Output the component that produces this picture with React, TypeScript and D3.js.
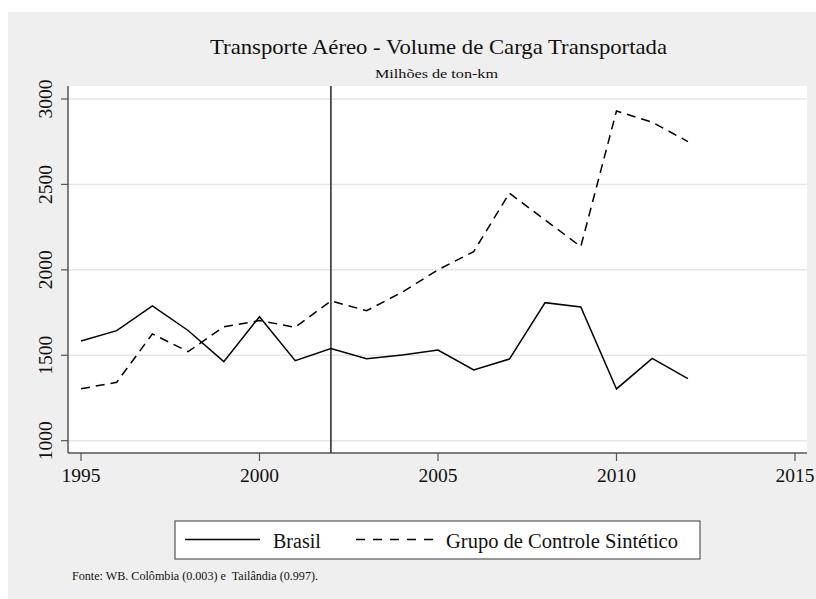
import React from "react";
import * as d3 from "d3";

const years = [1995, 1996, 1997, 1998, 1999, 2000, 2001, 2002, 2003, 2004, 2005, 2006, 2007, 2008, 2009, 2010, 2011, 2012];
const brasil = [1584, 1644, 1789, 1645, 1463, 1726, 1468, 1539, 1480, 1502, 1531, 1414, 1478, 1808, 1783, 1303, 1482, 1363];
const sintetico = [1304, 1342, 1625, 1521, 1667, 1703, 1664, 1818, 1761, 1870, 2000, 2107, 2449, 2292, 2136, 2930, 2864, 2751];
const xTicks = [1995, 2000, 2005, 2010, 2015];
const yTicks = [1000, 1500, 2000, 2500, 3000];
const treatYear = 2002;

const W = 816;
const H = 599;
const serif = "'Liberation Serif', 'Times New Roman', serif";

const App = () => {
  const left = 68;
  const right = 807;
  const top = 86;
  const bottom = 453;

  // fitted from tick positions in the reference
  const x = d3.scaleLinear().domain([1995, 2015]).range([81, 795]);
  const y = d3.scaleLinear().domain([1000, 3000]).range([440.7, 99]);

  const line = d3
    .line<number>()
    .x((_, i) => x(years[i]))
    .y((d) => y(d));

  return (
    <svg
      width={W}
      height={H}
      style={{ position: "absolute", left: 0, top: 0 }}
    >
      <rect x={0} y={0} width={W} height={H} fill="#ffffff" />
      <rect x={8} y={12} width={W - 8} height={H - 12} fill="#efefef" />
      <rect x={left} y={top} width={right - left} height={bottom - top} fill="#ffffff" />

      {/* grid */}
      {yTicks.map((t) => (
        <line key={"g" + t} x1={left} x2={right} y1={y(t)} y2={y(t)} stroke="#e6e6e6" strokeWidth={1.5} />
      ))}

      {/* titles */}
      <text x={210} y={54} fontFamily={serif} fontSize={22} fill="#111" textLength={457} lengthAdjust="spacingAndGlyphs">
        Transporte Aéreo - Volume de Carga Transportada
      </text>
      <text x={375} y={78.3} fontFamily={serif} fontSize={13.5} fill="#111" textLength={123} lengthAdjust="spacingAndGlyphs">
        Milhões de ton-km
      </text>

      {/* axes */}
      <line x1={left} x2={left} y1={top} y2={bottom} stroke="#555" strokeWidth={1.5} />
      <line x1={left} x2={right} y1={bottom} y2={bottom} stroke="#555" strokeWidth={1.5} />
      {yTicks.map((t) => (
        <g key={"y" + t}>
          <line x1={left - 7} x2={left} y1={y(t)} y2={y(t)} stroke="#555" strokeWidth={1.2} />
          <text
            transform={`translate(52,${y(t)}) rotate(-90)`}
            textAnchor="middle"
            fontFamily={serif}
            fontSize={19.5}
            fill="#111"
          >
            {t}
          </text>
        </g>
      ))}
      {xTicks.map((t) => (
        <g key={"x" + t}>
          <line x1={x(t)} x2={x(t)} y1={bottom} y2={bottom + 8} stroke="#555" strokeWidth={1.2} />
          <text x={x(t)} y={482} textAnchor="middle" fontFamily={serif} fontSize={19.5} fill="#111">
            {t}
          </text>
        </g>
      ))}

      {/* treatment year */}
      <line x1={x(treatYear)} x2={x(treatYear)} y1={top} y2={bottom} stroke="#333" strokeWidth={1.6} />

      {/* series */}
      <path d={line(sintetico) ?? ""} fill="none" stroke="#000" strokeWidth={1.5} strokeDasharray="9,6" />
      <path d={line(brasil) ?? ""} fill="none" stroke="#000" strokeWidth={1.5} />

      {/* legend */}
      <rect x={175} y={521} width={525} height={38} fill="#ffffff" stroke="#555" strokeWidth={1.2} />
      <line x1={185} x2={260} y1={539.5} y2={539.5} stroke="#000" strokeWidth={1.5} />
      <text x={273} y={548} fontFamily={serif} fontSize={20} fill="#111">
        Brasil
      </text>
      <line x1={356} x2={433} y1={539.5} y2={539.5} stroke="#000" strokeWidth={1.5} strokeDasharray="9,8" />
      <text x={446} y={548} fontFamily={serif} fontSize={20} fill="#111" textLength={232} lengthAdjust="spacingAndGlyphs">
        Grupo de Controle Sintético
      </text>

      {/* note */}
      <text
        x={72}
        y={580}
        fontFamily={serif}
        fontSize={11.5}
        fill="#111"
        textLength={246}
        lengthAdjust="spacingAndGlyphs"
        style={{ whiteSpace: "pre" }}
      >
        {"Fonte: WB. Colômbia (0.003) e  Tailândia (0.997)."}
      </text>
    </svg>
  );
};

export default App;
